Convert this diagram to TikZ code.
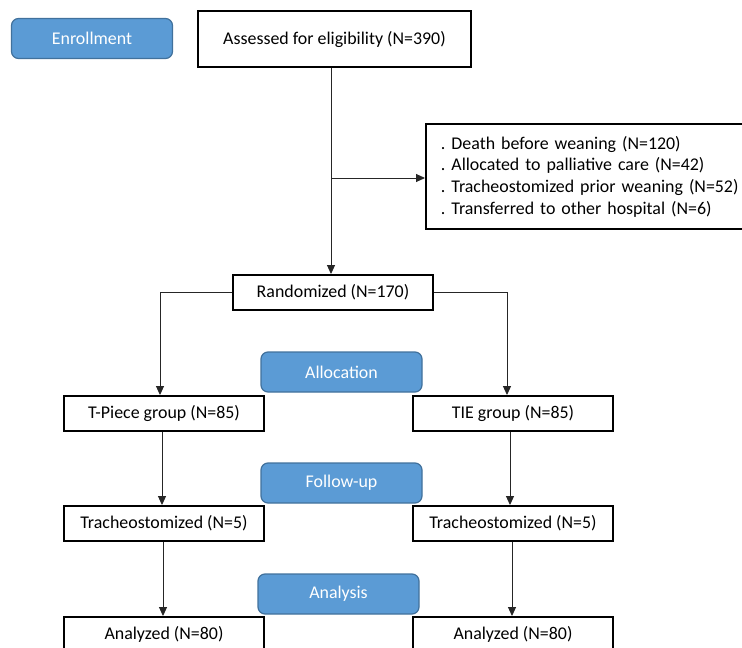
\documentclass[tikz,border=0pt]{standalone}
\usepackage{fontspec}
\setmainfont{Carlito}
\usetikzlibrary{arrows.meta}
\definecolor{phaseblue}{HTML}{5B9BD5}
\definecolor{phaseedge}{HTML}{41719C}
\frenchspacing
\begin{document}
\begin{tikzpicture}[x=1bp,y=-1bp,
  every node/.style={font=\fontsize{17.9bp}{21.7bp}\selectfont\frenchspacing},
  stagebox/.style={draw=black, line width=1.9bp, minimum width=200bp, minimum height=35bp, inner sep=0pt},
  phase/.style={draw=phaseedge, fill=phaseblue, text=white, rounded corners=7bp, line width=1.2bp, minimum width=161bp, minimum height=40bp, inner sep=0pt},
  conn/.style={draw=black!85, line width=0.9bp, -{Triangle[length=9bp,width=8bp]}}]
\useasboundingbox (0,0) rectangle (742,648);
\clip (0,0) rectangle (742,648);
% phase labels
\node[phase] (enroll) at (92,38.5) {Enrollment};
\node[phase] (alloc) at (341.5,372) {Allocation};
\node[phase] (follow) at (341.5,483) {Follow-up};
\node[phase] (anal) at (338.5,594) {Analysis};
% boxes
\node[stagebox, minimum width=273bp, minimum height=56bp] (assess) at (334.5,39) {Assessed for eligibility (N=390)};
\node[stagebox, anchor=north west, text width=310bp, inner xsep=15bp, align=left, minimum height=105bp] (excl) at (425,123)
  {. Death before weaning (N=120)\\
   . Allocated to palliative care (N=42)\\
   . Tracheostomized prior weaning (N=52)\\
   . Transferred to other hospital (N=6)};
\node[stagebox] (rand) at (333,292.5) {Randomized (N=170)};
\node[stagebox] (tpiece) at (164,413.5) {T-Piece group (N=85)};
\node[stagebox] (tie) at (513,413.5) {TIE group (N=85)};
\node[stagebox] (trl) at (164,523.5) {Tracheostomized (N=5)};
\node[stagebox] (trr) at (513,523.5) {Tracheostomized (N=5)};
\node[stagebox] (anl) at (164,634.5) {Analyzed (N=80)};
\node[stagebox] (anr) at (513,634.5) {Analyzed (N=80)};
% connectors
\coordinate (c1) at (331,178);
\coordinate (lb) at (160,0);
\coordinate (rb) at (507,0);
\coordinate (l1) at (162,0);
\coordinate (r1) at (510,0);
\coordinate (l2) at (163,0);
\coordinate (r2) at (512,0);
\draw[conn] (assess.south -| c1) -- (rand.north -| c1);
\draw[conn] (c1) -- (c1 -| excl.west);
\draw[conn] (rand.west) -| (lb |- tpiece.north);
\draw[conn] (rand.east) -| (rb |- tie.north);
\draw[conn] (l1 |- tpiece.south) -- (l1 |- trl.north);
\draw[conn] (r1 |- tie.south) -- (r1 |- trr.north);
\draw[conn] (l2 |- trl.south) -- (l2 |- anl.north);
\draw[conn] (r2 |- trr.south) -- (r2 |- anr.north);
\end{tikzpicture}
\end{document}
